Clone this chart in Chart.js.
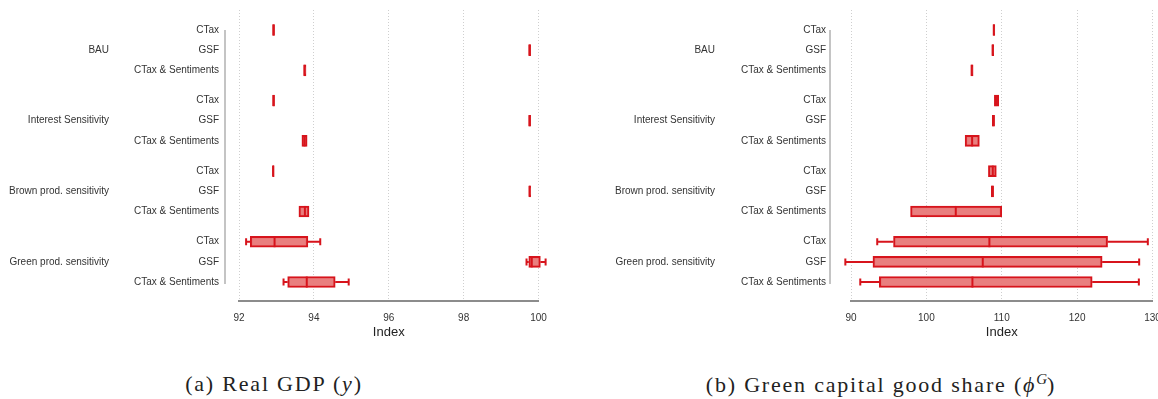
<!DOCTYPE html>
<html>
<head>
<meta charset="utf-8">
<script src="https://cdn.jsdelivr.net/npm/chart.js@4.4.0/dist/chart.umd.min.js"></script>
<style>
  html, body { margin: 0; padding: 0; background: #fff; overflow: hidden; width: 1158px; height: 399px; }
  #wrap { position: relative; width: 1158px; height: 399px; overflow: hidden; }
  canvas { position: absolute; top: 0; }
  #cGdp { left: 0; }
  #cShare { left: 579px; }
  .cap { position: absolute; top: 371px; font-family: "Liberation Serif", "DejaVu Serif", serif; font-size: 22px; letter-spacing: 1.8px; color: #222; white-space: nowrap; transform: translateX(-50%); }
  .cap sup { font-size: 15px; letter-spacing: 0; }
</style>
</head>
<body>
<div id="wrap">
  <canvas id="cGdp" width="579" height="345"></canvas>
  <canvas id="cShare" width="600" height="345"></canvas>
  <div class="cap" style="left:274px">(a) Real GDP (<i>y</i>)</div>
  <div class="cap" style="left:881px">(b) Green capital good share (<i>ϕ</i><sup><i>G</i></sup>)</div>
</div>
<script>
// rows, top to bottom
var groups = ['BAU', 'Interest Sensitivity', 'Brown prod. sensitivity', 'Green prod. sensitivity'];
var policies = ['CTax', 'GSF', 'CTax & Sentiments'];
var rowPos = [0, 1, 2, 3.5, 4.5, 5.5, 7, 8, 9, 10.5, 11.5, 12.5];

// (a) Real GDP
var gdpLow = [null, null, null, null, null, null, null, null, null, 92.19, 99.68, 93.19];
var gdpQ1  = [92.90, 99.74, 93.73, 92.90, 99.74, 93.68, 92.90, 99.75, 93.60, 92.30, 99.74, 93.30];
var gdpMed = [92.92, 99.76, 93.75, 92.92, 99.76, 93.75, 92.91, 99.76, 93.76, 92.95, 99.82, 93.81];
var gdpQ3  = [92.95, 99.79, 93.79, 92.95, 99.79, 93.82, 92.94, 99.79, 93.87, 93.84, 100.05, 94.57];
var gdpHigh= [null, null, null, null, null, null, null, null, null, 94.17, 100.19, 94.93];
var gdpTicks = [92, 94, 96, 98, 100];

// (b) Green capital good share
var shareLow = [null, null, null, null, null, null, null, null, null, 93.48, 89.25, 91.23];
var shareQ1  = [108.85, 108.70, 105.90, 109.02, 108.75, 105.14, 108.23, 108.62, 97.90, 95.64, 92.91, 93.75];
var shareMed = [108.95, 108.80, 106.03, 109.28, 108.89, 106.07, 108.81, 108.76, 103.90, 108.36, 107.48, 106.11];
var shareQ3  = [109.08, 108.93, 106.20, 109.60, 109.05, 107.03, 109.28, 108.92, 110.00, 124.04, 123.32, 122.00];
var shareHigh= [null, null, null, null, null, null, null, null, null, 129.38, 128.23, 128.19];
var shareTicks = [90, 100, 110, 120, 130];

var RED = '#d7141c';
var FILL = 'rgba(232,120,120,0.95)';

Chart.defaults.font.family = '"Liberation Sans", Arial, sans-serif';
Chart.defaults.font.size = 10;
Chart.defaults.color = '#333';

function boxPlugin(low, med, high) {
  return {
    id: 'boxExtras',
    afterDatasetsDraw: function(chart) {
      var ctx = chart.ctx, xs = chart.scales.x, ys = chart.scales.y;
      var meta = chart.getDatasetMeta(0);
      ctx.save();
      ctx.strokeStyle = RED;
      ctx.lineWidth = 2;
      meta.data.forEach(function(bar, i) {
        var y = ys.getPixelForValue(rowPos[i]);
        var h = bar.height;
        // median
        var mx = xs.getPixelForValue(med[i]);
        ctx.beginPath();
        ctx.moveTo(mx, y - h / 2);
        ctx.lineTo(mx, y + h / 2);
        ctx.stroke();
        // whiskers
        if (low[i] != null) {
          var lx = xs.getPixelForValue(low[i]);
          var hx = xs.getPixelForValue(high[i]);
          var left = Math.min(bar.x, bar.base), right = Math.max(bar.x, bar.base);
          ctx.beginPath();
          ctx.moveTo(lx, y); ctx.lineTo(left, y);
          ctx.moveTo(right, y); ctx.lineTo(hx, y);
          ctx.moveTo(lx, y - 3.5); ctx.lineTo(lx, y + 3.5);
          ctx.moveTo(hx, y - 3.5); ctx.lineTo(hx, y + 3.5);
          ctx.stroke();
        }
      });
      ctx.restore();
    }
  };
}

function labelPlugin(groupRight, lineOff) {
  return {
    id: 'groupLabels',
    afterDraw: function(chart) {
      var ctx = chart.ctx, ys = chart.scales.y;
      var a = chart.chartArea;
      ctx.save();
      // vertical rule next to the row labels
      ctx.strokeStyle = '#c4c4c4';
      ctx.lineWidth = 2;
      ctx.beginPath();
      ctx.moveTo(a.left - lineOff, ys.getPixelForValue(rowPos[0]));
      ctx.lineTo(a.left - lineOff, ys.getPixelForValue(rowPos[rowPos.length - 1]) + 2);
      ctx.stroke();
      ctx.fillStyle = '#333';
      ctx.font = '10px "Liberation Sans", Arial, sans-serif';
      ctx.textAlign = 'right';
      ctx.textBaseline = 'middle';
      groups.forEach(function(g, k) {
        ctx.fillText(g, groupRight, ys.getPixelForValue(rowPos[k * 3 + 1]));
      });
      ctx.restore();
    }
  };
}

function makePanel(id, q1, med, q3, low, high, ticks, axisW, padRight, labPad, groupRight, lineOff) {
  var rows = [];
  for (var i = 0; i < rowPos.length; i++) rows.push({ y: rowPos[i], x: [q1[i], q3[i]] });
  new Chart(document.getElementById(id), {
    type: 'bar',
    data: {
      datasets: [{
        data: rows,
        backgroundColor: FILL,
        borderColor: RED,
        borderWidth: 2,
        borderSkipped: false,
        barThickness: 11,
        clip: false
      }]
    },
    options: {
      indexAxis: 'y',
      responsive: false,
      animation: false,
      layout: { padding: { top: 10, right: padRight, left: 0, bottom: 0 } },
      plugins: { legend: { display: false }, tooltip: { enabled: false } },
      scales: {
        x: {
          type: 'linear',
          min: ticks[0],
          max: ticks[ticks.length - 1],
          afterBuildTicks: function(s) { s.ticks = ticks.map(function(v) { return { value: v }; }); },
          afterFit: function(s) { s.height = 44; },
          ticks: { padding: 11, color: '#333', font: { size: 10 } },
          grid: { color: '#cfcfcf', lineWidth: 1, drawTicks: false },
          border: { display: true, color: '#8c8c8c', width: 2, dash: [1, 2] },
          title: { display: true, text: 'Index', color: '#222', font: { size: 13 }, padding: { top: 0, bottom: 5 } }
        },
        y: {
          type: 'linear',
          reverse: true,
          offset: false,
          min: -0.99,
          max: 13.44,
          afterBuildTicks: function(s) { s.ticks = rowPos.map(function(v) { return { value: v }; }); },
          afterFit: function(s) { s.width = axisW; s.paddingTop = 0; s.paddingBottom = 0; },
          ticks: {
            padding: labPad,
            color: '#333',
            callback: function(v) { return policies[rowPos.indexOf(v) % 3]; }
          },
          grid: { display: false, drawTicks: false },
          border: { display: false }
        }
      }
    },
    plugins: [boxPlugin(low, med, high), labelPlugin(groupRight, lineOff)]
  });
}

makePanel('cGdp', gdpQ1, gdpMed, gdpQ3, gdpLow, gdpHigh, gdpTicks, 239, 40.5, 20, 109, 14);
makePanel('cShare', shareQ1, shareMed, shareQ3, shareLow, shareHigh, shareTicks, 272, 26.5, 25, 136, 21);
</script>
</body>
</html>
